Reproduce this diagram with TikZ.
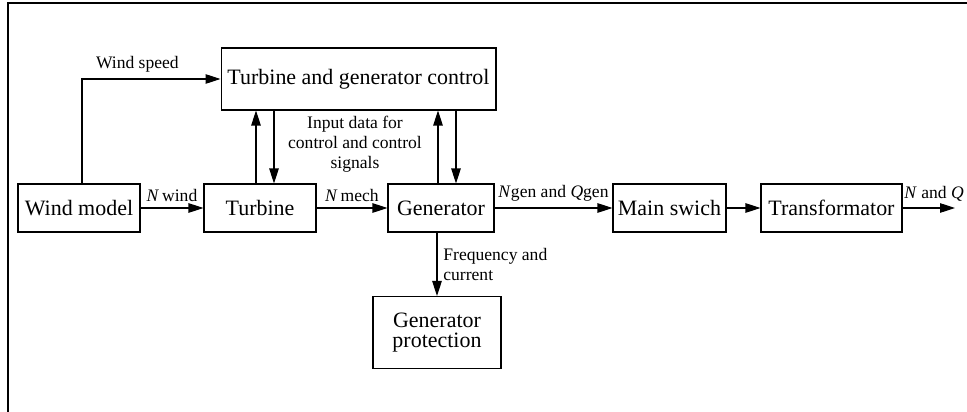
\documentclass[tikz,border=0pt]{standalone}
\usepackage{fontspec}
\setmainfont{Liberation Serif}
\usepackage{tikz}
\usetikzlibrary{arrows.meta,calc,positioning}
\tikzset{
    block/.style args={#1}{draw, minimum width=#1, minimum height=0.96cm, inner sep=2pt, font=\fontsize{12.5}{11.5}\selectfont, align=center},
    lbl/.style={font=\fontsize{10}{11.5}\selectfont}
}

\begin{document}
\begin{tikzpicture}[x=0.02cm, y=-0.02cm, >={Triangle[length=3mm,width=1.9mm]}, line width=0.6pt]
\useasboundingbox (0,0) rectangle (967,412);
\draw[line width=0.8pt] (8,412) -- (8,3) -- (967,3);
% blocks
\node[block=2.44cm] (wind) at (79,208) {Wind model};
\node[block=2.24cm] (turb) at (260,208) {Turbine};
\node[block=2.12cm] (gen) at (441,208) {Generator};
\node[block=5.5cm, minimum height=1.24cm] (ctrl) at (358.5,79) {Turbine and generator control};
\node[block=2.26cm] (swich) at (669.5,208) {Main swich};
\node[block=2.82cm] (trafo) at (831.5,208) {Transformator};
\node[block=2.56cm, minimum height=1.44cm] (prot) at (437,332.5) {Generator\\protection};
\coordinate (out) at (955,208);
% x positions of the vertical links
\coordinate (tu) at (256,0);
\coordinate (td) at (274,0);
\coordinate (gu) at (438,0);
\coordinate (gd) at (456,0);
\coordinate (ws) at (82,0);
% main chain
\draw[->] (wind) -- node[lbl, above] {\textit{N}\,wind} (turb);
\draw[->] (turb) -- node[lbl, above] {\textit{N}\,mech} (gen);
\draw[->] (gen) -- node[lbl, above] {\textit{N}gen and \textit{Q}gen} (swich);
\draw[->] (swich) -- (trafo);
\draw[->] (trafo) -- node[lbl, above, pos=0.6] {\textit{N} and \textit{Q}} (out);
% control links
\draw[->] (wind.north -| ws) |- node[lbl, above, pos=0.7] {Wind speed} (ctrl.west);
\draw[->] (turb.north -| tu) -- (ctrl.south -| tu);
\draw[->] (ctrl.south -| td) -- (turb.north -| td);
\draw[->] (gen.north -| gu) -- (ctrl.south -| gu);
\draw[->] (ctrl.south -| gd) -- (gen.north -| gd);
\node[lbl, align=center] (inp) at (355,144) {Input data for\\control and control\\signals};
% protection
\draw[->] (gen.south -| prot.north) -- node[lbl, right, align=left] {Frequency and\\current} (prot.north);
\end{tikzpicture}
\end{document}
